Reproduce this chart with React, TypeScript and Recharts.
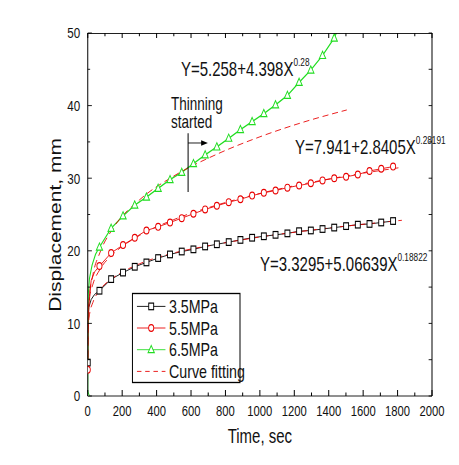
import React from 'react';
import { LineChart, Line, XAxis, YAxis, ReferenceLine, Legend } from 'recharts';

// the source figure is horizontally squeezed, so the chart is drawn wider and scaled back
const SX = 0.75;
const W = 459;
const H = 465;
const CW = W / SX;
const FONT = '"Liberation Sans Narrow", "Arial Narrow", "Liberation Sans", Arial, sans-serif';

const markTimes = [0, 68, 136, 205, 273, 341, 409, 478, 546, 614, 682, 750, 819, 887, 955, 1023, 1091, 1160, 1228, 1296, 1364, 1432, 1501, 1569, 1637, 1705, 1774];

const black35 = [4.6, 14.5, 16.1, 17.0, 17.8, 18.4, 19.0, 19.5, 19.9, 20.2, 20.6, 20.9, 21.2, 21.5, 21.8, 22.0, 22.2, 22.4, 22.7, 22.8, 23.0, 23.2, 23.4, 23.6, 23.7, 23.9, 24.1];
const red55 = [3.6, 17.9, 19.7, 20.8, 21.8, 22.8, 23.3, 23.9, 24.5, 25.1, 25.7, 26.2, 26.7, 27.1, 27.6, 28.0, 28.3, 28.7, 29.0, 29.3, 29.7, 30.0, 30.2, 30.5, 31.0, 31.3, 31.6];
const green65 = [0, 20.5, 23.1, 24.8, 26.3, 27.4, 28.6, 29.8, 30.8, 32.0, 33.2, 34.3, 35.5, 36.7, 37.8, 38.9, 40.1, 41.4, 43.2, 44.9, 46.9, 49.3, 53.2];

// first seconds of each test, sampled between the markers
const black35EarlyT = [2, 6, 20, 40];
const black35Early = [10.5, 12.2, 13.3, 14.0];
const red55EarlyT = [2, 8, 20, 40];
const red55Early = [9.5, 13.5, 15.9, 17.1];
const green65EarlyT = [1, 3, 10, 25, 45];
const green65Early = [8, 14, 16.2, 18.0, 19.5];

// dashed fitted curves
const fitTimes = [0, 2, 10, 30, 70, 150, 300, 500, 750, 1000, 1250, 1500, 1825];
const black35Fit = [3.3, 9.1, 11.2, 12.9, 14.6, 16.3, 18.2, 19.7, 20.9, 21.9, 22.7, 23.4, 24.2];
const red55Fit = [7.9, 11.4, 13.4, 15.4, 17.4, 19.6, 22.1, 24.3, 26.3, 27.9, 29.2, 30.3, 31.5];
const greenFitTimes = [0, 2, 10, 30, 70, 150, 300, 500, 750, 1000, 1250, 1505];
const green65Fit = [5.3, 10.6, 13.6, 16.7, 19.7, 23.2, 27.0, 30.3, 33.3, 35.7, 37.7, 39.4];

const xMajor = [0, 200, 400, 600, 800, 1000, 1200, 1400, 1600, 1800, 2000];
const xMinor = [100, 300, 500, 700, 900, 1100, 1300, 1500, 1700, 1900];
const yMajor = [0, 10, 20, 30, 40, 50];
const yMinor = [5, 15, 25, 35, 45];
const xTicks = [...xMajor, ...xMinor].sort((a, b) => a - b);
const yTicks = [...yMajor, ...yMinor].sort((a, b) => a - b);
const X_MAX = 2000;
const Y_MAX = 50;

const legendNames = ['3.5MPa', '5.5MPa', '6.5MPa', 'Curve fitting'];

const thinningTime = 583;
const thinningRange = [28.1, 36.2];
const arrowLevel = 34.85;
const arrowEnd = 698;

const BLACK = '#000';
const RED = '#e80000';
const GREEN = '#22dd22';
const INK = '#111';

// plot box inside the (unscaled) chart
const MARGIN = { top: 33, right: 36, bottom: 22, left: 0 };
const Y_AXIS_W = 117;
const X_AXIS_H = 47;
const PLOT_L = MARGIN.left + Y_AXIS_W;
const PLOT_R = CW - MARGIN.right;
const PLOT_T = MARGIN.top;
const PLOT_B = H - MARGIN.bottom - X_AXIS_H;

type Pt = { t: number; v: number; mark?: boolean };

function buildSeries(mt: number[], mv: number[], et: number[], ev: number[]): Pt[] {
    const pts = mv.map((v, i) => ({ t: mt[i], v, mark: true }))
        .concat(ev.map((v, i) => ({ t: et[i], v, mark: false })));
    return pts.sort((a, b) => a.t - b.t);
}

function buildFit(ft: number[], fv: number[]): Pt[] {
    return fv.map((v, i) => ({ t: ft[i], v }));
}

const blackData = buildSeries(markTimes, black35, black35EarlyT, black35Early);
const redData = buildSeries(markTimes, red55, red55EarlyT, red55Early);
const greenData = buildSeries(markTimes, green65, green65EarlyT, green65Early);
const blackFitData = buildFit(fitTimes, black35Fit);
const redFitData = buildFit(fitTimes, red55Fit);
const greenFitData = buildFit(greenFitTimes, green65Fit);

const squareDot = (p: any) => {
    if (!p.payload?.mark || p.cx == null) return <g key={`s${p.index}`} />;
    return <rect key={`s${p.index}`} x={p.cx - 3.3} y={p.cy - 3.3} width={6.6} height={6.6} fill="#fff" stroke={BLACK} strokeWidth={1.2} />;
};
const circleDot = (p: any) => {
    if (!p.payload?.mark || p.cx == null) return <g key={`c${p.index}`} />;
    return <ellipse key={`c${p.index}`} cx={p.cx} cy={p.cy} rx={3.4} ry={3.4} fill="#fff" stroke={RED} strokeWidth={1.2} />;
};
const triangleDot = (p: any) => {
    if (!p.payload?.mark || p.cx == null) return <g key={`t${p.index}`} />;
    const { cx, cy } = p;
    return <polygon key={`t${p.index}`} points={`${cx},${cy - 4.2} ${cx - 4.2},${cy + 3} ${cx + 4.2},${cy + 3}`} fill="#fff" stroke={GREEN} strokeWidth={1.2} />;
};

const BottomTick = ({ x, y, payload }: any) => {
    const major = xMajor.includes(payload.value);
    return (
        <g>
            <line x1={x} x2={x} y1={y} y2={y - (major ? 6 : 3.5)} stroke={BLACK} strokeWidth={1.33} />
            {major && <text x={x} y={y + 20} textAnchor="middle" fontSize={15} fill={INK}>{payload.value}</text>}
        </g>
    );
};
const LeftTick = ({ x, y, payload }: any) => {
    const major = yMajor.includes(payload.value);
    return (
        <g>
            <line x1={x} x2={x + (major ? 5.5 : 3.2)} y1={y} y2={y} stroke={BLACK} strokeWidth={1} />
            {major && <text x={x - 10} y={y + 5.5} textAnchor="end" fontSize={15.5} fill={INK}>{payload.value}</text>}
        </g>
    );
};

const Arrow = (p: any) => (
    <g>
        <line x1={p.x1} y1={p.y1} x2={p.x2 - 6} y2={p.y2} stroke={BLACK} strokeWidth={1} />
        <polygon points={`${p.x2},${p.y2} ${p.x2 - 9},${p.y2 - 2.8} ${p.x2 - 9},${p.y2 + 2.8}`} fill={BLACK} />
    </g>
);

const LegendBox = () => {
    const w = 144.6;
    const h = 90;
    const rows = [13.4, 35, 56.7, 78.4];
    const colors = [BLACK, RED, GREEN, RED];
    return (
        <svg width={w} height={h} style={{ display: 'block', overflow: 'visible' }}>
            <rect x={0.6} y={0.5} width={w - 1.2} height={h - 1} fill="#fff" stroke={BLACK} strokeWidth={1.33} />
            {legendNames.map((name, i) => {
                const y = rows[i];
                const c = colors[i];
                return (
                    <g key={name}>
                        <line x1={6.6} x2={44.6} y1={y} y2={y} stroke={c} strokeWidth={1} strokeDasharray={i === 3 ? '6 5' : undefined} />
                        {i === 0 && <rect x={22.3} y={y - 3.3} width={6.6} height={6.6} fill="#fff" stroke={c} strokeWidth={1.2} />}
                        {i === 1 && <ellipse cx={25.6} cy={y} rx={3.4} ry={3.4} fill="#fff" stroke={c} strokeWidth={1.2} />}
                        {i === 2 && <polygon points={`25.6,${y - 4.2} 21.4,${y + 3} 29.8,${y + 3}`} fill="#fff" stroke={c} strokeWidth={1.2} />}
                        <text x={49.3} y={y + 6.8} fontSize={19} fill={INK}>{name}</text>
                    </g>
                );
            })}
        </svg>
    );
};

// top and right box edges with inward ticks, drawn as a separate svg layered over the chart
const FrameOverlay = () => (
    <svg width={CW} height={H} style={{ position: 'absolute', left: 0, top: 0, pointerEvents: 'none' }}>
        <line x1={PLOT_L} x2={PLOT_R} y1={PLOT_T + 0.5} y2={PLOT_T + 0.5} stroke={BLACK} strokeWidth={1} />
        <line x1={PLOT_R} x2={PLOT_R} y1={PLOT_T} y2={PLOT_B} stroke={BLACK} strokeWidth={1.33} />
        {xTicks.map((t) => {
            const x = PLOT_L + (t / X_MAX) * (PLOT_R - PLOT_L);
            return <line key={`tt${t}`} x1={x} x2={x} y1={PLOT_T} y2={PLOT_T + (xMajor.includes(t) ? 5 : 3.3)} stroke={BLACK} strokeWidth={1.33} />;
        })}
        {yTicks.map((v) => {
            const y = PLOT_B - (v / Y_MAX) * (PLOT_B - PLOT_T);
            return <line key={`rt${v}`} x1={PLOT_R - 4.5} x2={PLOT_R} y1={y} y2={y} stroke={BLACK} strokeWidth={1} />;
        })}
    </svg>
);

export default function App() {
    return (
        <div style={{ position: 'absolute', left: 0, top: 0, width: W, height: H, overflow: 'hidden', background: '#fff', fontFamily: FONT }}>
            <div style={{ position: 'relative', width: CW, height: H, transform: `scaleX(${SX})`, transformOrigin: '0 0' }}>
                <LineChart width={CW} height={H} margin={MARGIN}>
                    <XAxis dataKey="t" type="number" domain={[0, X_MAX]} ticks={xTicks} interval={0} allowDataOverflow
                        height={X_AXIS_H} tickSize={0} tickMargin={0} tickLine={false} tick={<BottomTick />}
                        axisLine={{ stroke: BLACK, strokeWidth: 1 }}
                        label={{ value: 'Time, sec', position: 'insideBottom', offset: 0, fontSize: 20, fill: INK }} />
                    <YAxis type="number" domain={[0, Y_MAX]} ticks={yTicks} interval={0} allowDataOverflow width={Y_AXIS_W}
                        tickSize={0} tickMargin={0} tickLine={false} tick={<LeftTick />}
                        axisLine={{ stroke: BLACK, strokeWidth: 1.33 }} />

                    <Line data={blackData} dataKey="v" type="linear" stroke={BLACK} strokeWidth={1} dot={squareDot} activeDot={false} isAnimationActive={false} />
                    <Line data={redData} dataKey="v" type="linear" stroke={RED} strokeWidth={1} dot={circleDot} activeDot={false} isAnimationActive={false} />
                    <Line data={greenData} dataKey="v" type="linear" stroke={GREEN} strokeWidth={1.4} dot={triangleDot} activeDot={false} isAnimationActive={false} />
                    <Line data={blackFitData} dataKey="v" type="monotone" stroke={RED} strokeWidth={1} strokeDasharray="8 5" dot={false} activeDot={false} isAnimationActive={false} />
                    <Line data={redFitData} dataKey="v" type="monotone" stroke={RED} strokeWidth={1} strokeDasharray="8 5" dot={false} activeDot={false} isAnimationActive={false} />
                    <Line data={greenFitData} dataKey="v" type="monotone" stroke={RED} strokeWidth={1} strokeDasharray="8 5" dot={false} activeDot={false} isAnimationActive={false} />

                    <ReferenceLine segment={[{ x: thinningTime, y: thinningRange[0] }, { x: thinningTime, y: thinningRange[1] }]} stroke={BLACK} strokeWidth={1.33} />
                    <ReferenceLine segment={[{ x: thinningTime, y: arrowLevel }, { x: arrowEnd, y: arrowLevel }]} shape={Arrow} />

                    <Legend layout="vertical" align="center" verticalAlign="middle" content={<LegendBox />}
                        wrapperStyle={{ left: 176.4, top: 293.3, width: 144.6, height: 90 }} />

                    <g fill={INK}>
                        <text x={82} y={225} fontSize={21} textAnchor="middle" transform="rotate(-90, 82, 225)">Displacement, mm</text>
                        <text x={241.3} y={76} fontSize={20}>Y=5.258+4.398X<tspan dy={-10} fontSize={11}>0.28</tspan></text>
                        <text x={393.3} y={154} fontSize={20}>Y=7.941+2.8405X<tspan dy={-10} fontSize={11}>0.28191</tspan></text>
                        <text x={346.7} y={271} fontSize={20}>Y=3.3295+5.06639X<tspan dy={-10} fontSize={11}>0.18822</tspan></text>
                        <text x={228} y={110} fontSize={18}>Thinning</text>
                        <text x={228} y={128} fontSize={18}>started</text>
                    </g>
                </LineChart>
                <FrameOverlay />
            </div>
        </div>
    );
}
